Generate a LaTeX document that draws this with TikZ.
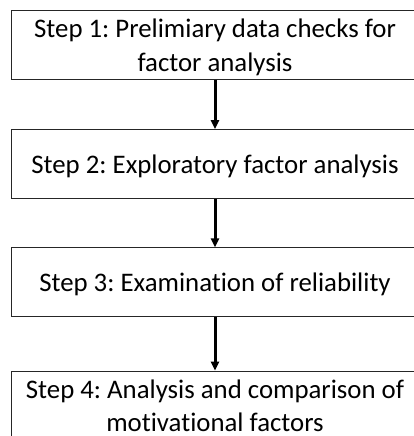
\documentclass[tikz,border=0pt]{standalone}
\usepackage{fontspec}
\setmainfont{Carlito}[Ligatures=NoCommon]
\usetikzlibrary{arrows.meta}
\frenchspacing

\begin{document}
\begin{tikzpicture}[x=1pt,y=-1pt,
    stepbox/.style={draw=black!85,line width=0.9pt,minimum width=408pt,minimum height=69pt,
      align=center,inner sep=0pt,text depth=0pt,font=\fontsize{26.8}{33.5}\selectfont},
    flow/.style={line width=3pt,-{Triangle[width=8pt,length=9pt]}}]
        \useasboundingbox (0,0) rectangle (414,436);
        % Steps
        \draw (215,45) node[stepbox](step1) {Step 1: Prelimiary data checks for\\factor analysis};
        \draw (215,164) node[stepbox](step2) {Step 2: Exploratory factor analysis};
        \draw (215,282.3) node[stepbox](step3) {Step 3: Examination of reliability};
        \draw (215,405.5) node[stepbox](step4) {Step 4: Analysis and comparison of\\motivational factors};
        % Arrows
        \draw[flow] (step1) -- (step2);
        \draw[flow] (step2) -- (step3);
        \draw[flow] (step3) -- (step4);
    \end{tikzpicture}
\end{document}
